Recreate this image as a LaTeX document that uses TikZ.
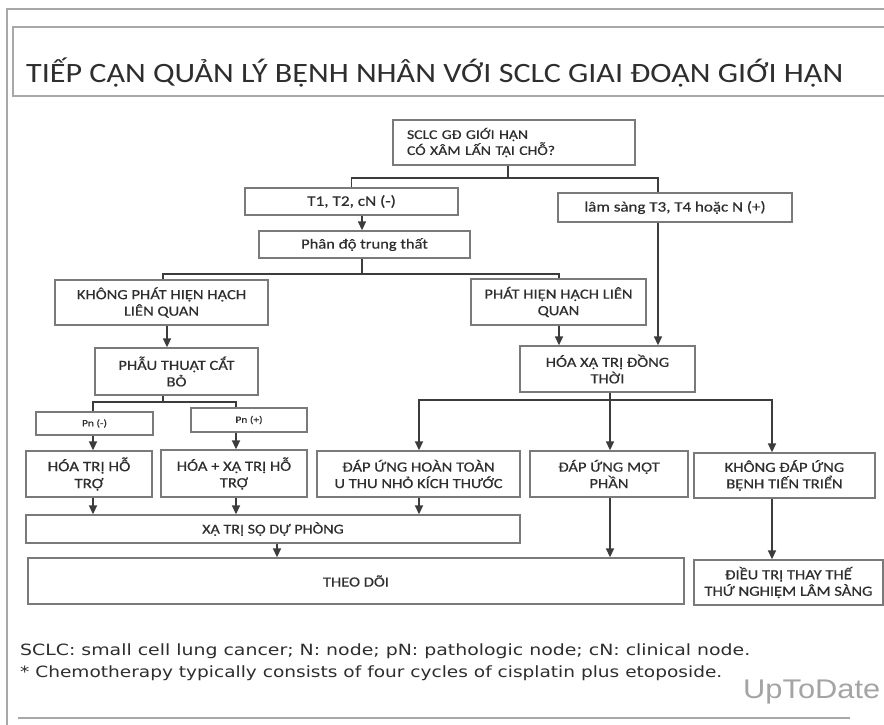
\documentclass[tikz,border=0pt]{standalone}
\usepackage{fontspec}
\usepackage{graphicx}
\setmainfont{Carlito}
\newfontfamily\boxfont[FakeStretch=1.18,FakeBold=0.5]{Carlito}
\newfontfamily\footfont{DejaVu Sans}
\newfontfamily\logofont{Liberation Sans}
\usetikzlibrary{arrows.meta}
\definecolor{txt}{HTML}{2E2E2E}
\definecolor{bord}{HTML}{7A7A7A}
\definecolor{conn}{HTML}{3C3C3C}
\definecolor{framec}{HTML}{A8A8A8}
\definecolor{logoc}{HTML}{A4A4A4}
\tikzset{
  box/.style={draw=bord, line width=1.3pt, text=txt, align=center, inner sep=2pt,
    font=\boxfont\fontsize{14}{16.5}\selectfont},
  small/.style={font=\boxfont\fontsize{9.7}{12}\selectfont},
  line/.style={draw=conn, line width=1.5pt},
  arr/.style={line, -{Triangle[length=9pt,width=8pt]}},
  frameline/.style={draw=framec, line width=1.5pt},
  plain/.style={anchor=base west, inner sep=0pt, text=txt},
}
\begin{document}
\begin{tikzpicture}[x=1pt,y=-1pt]
\useasboundingbox (0,0) rectangle (884,725);
\fill[white] (0,0) rectangle (884,725);
% frame and title box
\draw[frameline] (7,725) -- (7,9) -- (884,9);
\draw[frameline] (900,27) -- (13,27) -- (13,96) -- (900,96);
\draw[frameline] (18,718) -- (850,718);
\node[plain, font=\fontsize{28}{28}\selectfont] (title) at (26,82)
  {\resizebox{817pt}{\height}{TIẾP CẬN QUẢN LÝ BỆNH NHÂN VỚI SCLC GIAI ĐOẠN GIỚI HẠN}};

% boxes
\node[box, minimum width=242pt, minimum height=45pt, text width=214pt, align=left,
  font=\boxfont\fontsize{13.3}{16}\selectfont] (n1) at (514,142.5) {SCLC GĐ GIỚI HẠN\\CÓ XÂM LẤN TẠI CHỖ?};
\node[box, minimum width=213pt, minimum height=27pt, font=\boxfont\fontsize{14.6}{16}\selectfont] (n2) at (351.5,201.5) {T1, T2, cN (-)};
\node[box, minimum width=234pt, minimum height=29pt, font=\boxfont\fontsize{14.4}{16}\selectfont] (n3) at (675,207.5) {lâm sàng T3, T4 hoặc N (+)};
\node[box, minimum width=211pt, minimum height=27pt] (n4) at (364.5,244.5) {Phân độ trung thất};
\node[box, minimum width=213pt, minimum height=45pt] (n5) at (161.5,302.5) {KHÔNG PHÁT HIỆN HẠCH\\LIÊN QUAN};
\node[box, minimum width=175pt, minimum height=46pt] (n6) at (558.5,302) {PHÁT HIỆN HẠCH LIÊN\\QUAN};
\node[box, minimum width=163pt, minimum height=47pt] (n7) at (176.5,371.5) {PHẪU THUẬT CẮT\\BỎ};
\node[box, minimum width=175pt, minimum height=46pt] (n8) at (607.5,369) {HÓA XẠ TRỊ ĐỒNG\\THỜI};
\node[box, small, minimum width=117pt, minimum height=23pt] (n9) at (94.5,423.5) {Pn (-)};
\node[box, small, minimum width=116pt, minimum height=24pt] (n10) at (249,420) {Pn (+)};
\node[box, minimum width=126pt, minimum height=46pt, font=\boxfont\fontsize{14.4}{17}\selectfont] (n11) at (89,474) {HÓA TRỊ HỖ\\TRỢ};
\node[box, minimum width=146pt, minimum height=47pt] (n12) at (234,473.5) {HÓA + XẠ TRỊ HỖ\\TRỢ};
\node[box, minimum width=203pt, minimum height=46pt] (n13) at (418.5,474) {ĐÁP ỨNG HOÀN TOÀN\\U THU NHỎ KÍCH THƯỚC};
\node[box, minimum width=158pt, minimum height=46pt] (n14) at (609,474) {ĐÁP ỨNG MỘT\\PHẦN};
\node[box, minimum width=181pt, minimum height=45pt] (n15) at (784.5,475.5) {KHÔNG ĐÁP ỨNG\\BỆNH TIẾN TRIỂN};
\node[box, minimum width=494pt, minimum height=28pt, font=\boxfont\fontsize{13.6}{16}\selectfont] (n16) at (273,529) {XẠ TRỊ SỌ DỰ PHÒNG};
\node[box, minimum width=656pt, minimum height=46pt] (n17) at (356,581) {THEO DÕI};
\node[box, minimum width=189pt, minimum height=45pt] (n18) at (788.5,582.5) {ĐIỀU TRỊ THAY THẾ\\THỨ NGHIỆM LÂM SÀNG};

% junction coordinates
\coordinate (j1) at (508,178);
\coordinate (j1R) at (658,178);
\coordinate (c362) at (362,0);
\coordinate (j4) at (362,274);
\coordinate (j4L) at (163,274);
\coordinate (j4R) at (559,274);
\coordinate (c167) at (167,0);
\coordinate (j7) at (163,402);
\coordinate (j7L) at (93,402);
\coordinate (j7R) at (236,402);
\coordinate (j8) at (610,400);
\coordinate (j8L) at (419,400);
\coordinate (j8R) at (772,400);
\coordinate (c277) at (277,0);

% connectors
\draw[line] (n1.south -| j1) -- (j1);
\draw[line] (n2.north) |- (j1) -- (j1R) -- (n3.north -| j1R);
\draw[arr] (n2.south -| c362) -- (n4.north -| c362);
\draw[line] (n4.south -| j4) -- (j4);
\draw[line] (n5.north -| j4L) -- (j4L) -- (j4R) -- (n6.north -| j4R);
\draw[arr] (n5.south -| c167) -- (n7.north -| c167);
\draw[arr] (n6.south -| j4R) -- (n8.north -| j4R);
\draw[arr] (n3.south -| j1R) -- (n8.north -| j1R);
\draw[line] (n7.south -| j7) -- (j7);
\draw[line] (n9.north -| j7L) -- (j7L) -- (j7R) -- (n10.north -| j7R);
\draw[arr] (n9.south -| j7L) -- (n11.north -| j7L);
\draw[arr] (n10.south -| j7R) -- (n12.north -| j7R);
\draw[arr] (n11.south -| j7L) -- (n16.north -| j7L);
\draw[arr] (n12.south -| j7R) -- (n16.north -| j7R);
\draw[arr] (n13.south -| j8L) -- (n16.north -| j8L);
\draw[line] (n8.south -| j8) -- (j8);
\draw[arr] (j8) -| (n13.north -| j8L);
\draw[arr] (j8) -- (n14.north -| j8);
\draw[arr] (j8) -| (n15.north -| j8R);
\draw[arr] (n16.south -| c277) -- (n17.north -| c277);
\draw[arr] (n14.south -| j8) -- (n17.north -| j8);
\draw[arr] (n15.south -| j8R) -- (n18.north -| j8R);

% footer
\node[plain, font=\footfont\fontsize{15.5}{15.5}\selectfont] (f1) at (20,655)
  {\resizebox{730pt}{\height}{SCLC: small cell lung cancer; N: node; pN: pathologic node; cN: clinical node.}};
\node[plain, font=\footfont\fontsize{15.5}{15.5}\selectfont] (f2) at (20,677)
  {\resizebox{702pt}{\height}{* Chemotherapy typically consists of four cycles of cisplatin plus etoposide.}};
\node[plain, text=logoc, font=\logofont\fontsize{27}{27}\selectfont] (logo) at (743,698)
  {\resizebox{137pt}{\height}{UpToDate}};
\end{tikzpicture}
\end{document}
